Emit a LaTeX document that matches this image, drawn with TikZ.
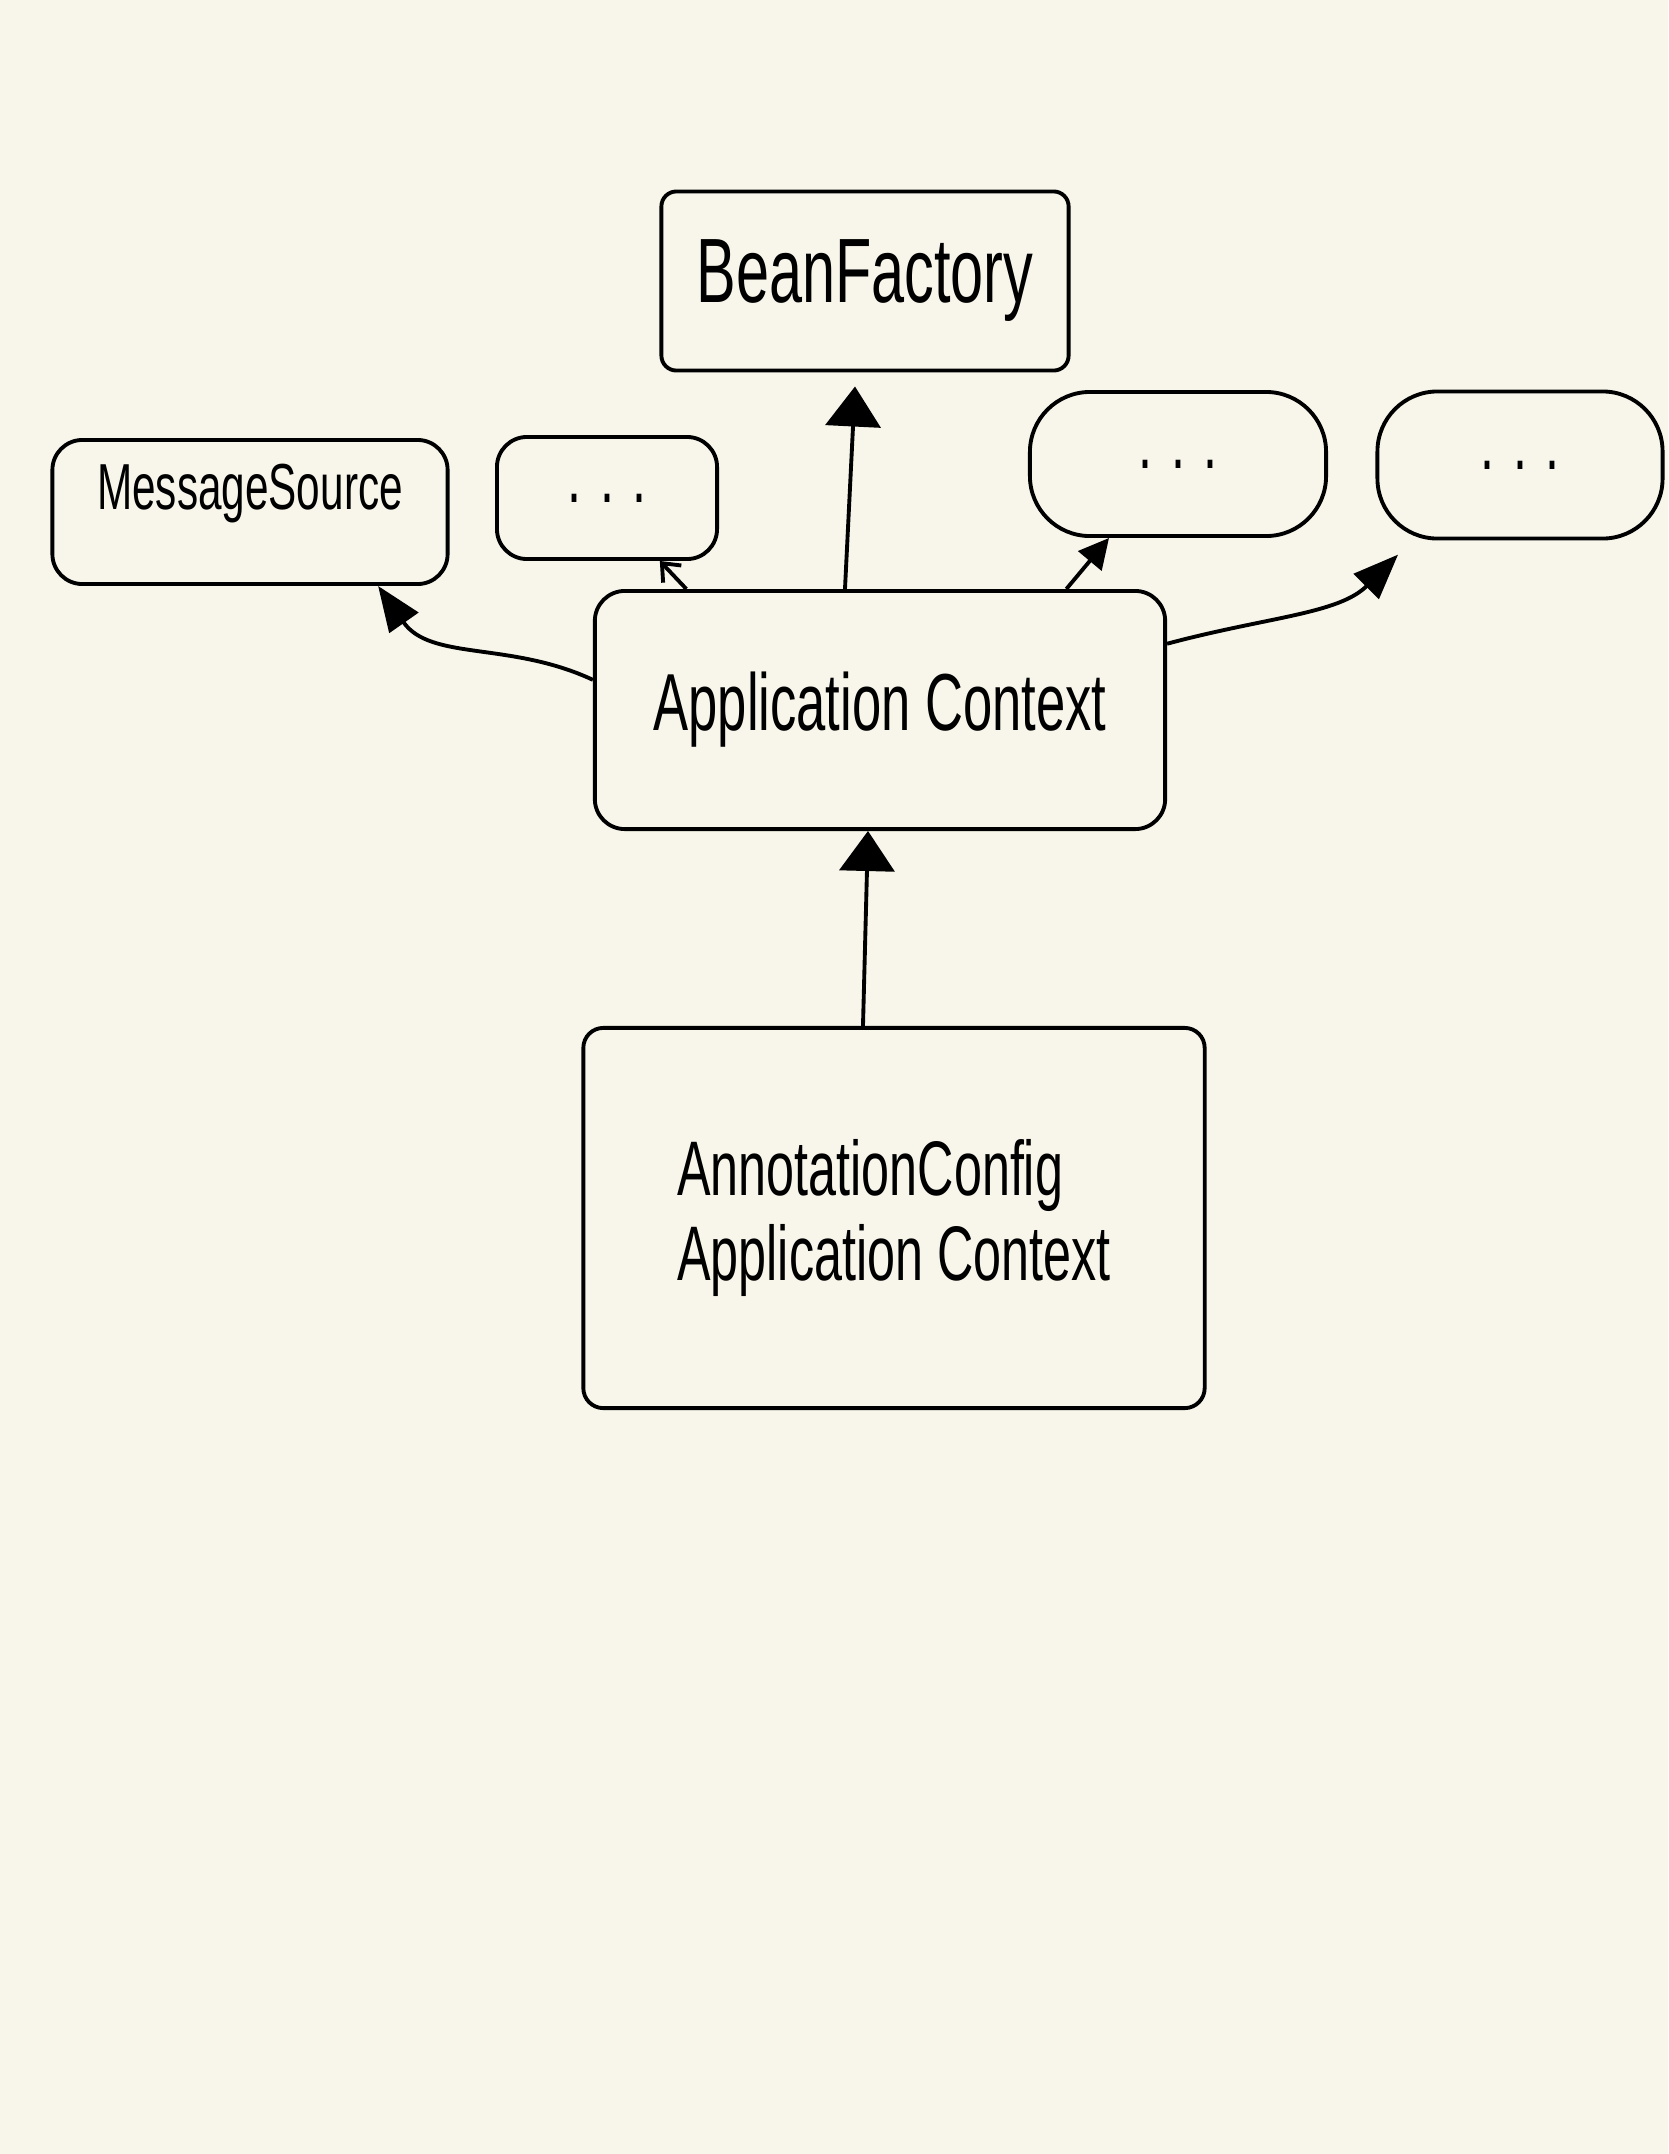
\documentclass[tikz,border=0pt]{standalone}
\usepackage{fontspec}
\newfontfamily\handfont[FakeStretch=0.65]{Liberation Sans}
\usetikzlibrary{arrows.meta}
\definecolor{paper}{RGB}{248,246,234}

\begin{document}
\begin{tikzpicture}[x=0.01cm,y=-0.01cm,line width=1.1pt,
  box/.style={draw,rounded corners=#1,align=center,inner sep=0pt,
    font=\handfont\fontsize{22}{24}\selectfont},
  box/.default=0.15cm,
  bigtip/.style={-{Triangle[length=0.4cm,width=0.55cm]}},
  sidetip/.style={-{Triangle[length=0.45cm,width=0.35cm]}},
  smalltip/.style={-{Triangle[length=0.3cm,width=0.3cm]}}]
\fill[paper] (0,0) rectangle (1668,2154);
% interfaces on top
\node[box,minimum width=4.07cm,minimum height=1.79cm,
  font=\handfont\fontsize{26}{28}\selectfont] (bean) at (865,281) {BeanFactory};
\node[box=0.3cm,minimum width=3.95cm,minimum height=1.44cm,text depth=0.5cm,
  font=\handfont\fontsize{18.5}{20}\selectfont] (msg) at (250,512) {MessageSource};
\node[box=0.3cm,minimum width=2.2cm,minimum height=1.22cm] (dotsa) at (607,498) {. . .};
\node[box=0.6cm,minimum width=2.96cm,minimum height=1.44cm] (dotsb) at (1178,464) {. . .};
\node[box=0.6cm,minimum width=2.85cm,minimum height=1.47cm] (dotsc) at (1520,465) {. . .};
% context and its implementation
\node[box=0.3cm,minimum width=5.7cm,minimum height=2.38cm,
  font=\handfont\fontsize{23}{25}\selectfont] (app) at (880,710) {Application Context};
\node[box=0.2cm,minimum width=6.21cm,minimum height=3.8cm,align=left] (anno) at (894,1218)
  {AnnotationConfig\\Application Context};
\draw[bigtip] ([xshift=-0.35cm]app.north) -- ([xshift=-0.1cm,yshift=-0.14cm]bean.south);
\draw[bigtip] ([xshift=-0.31cm]anno.north) -- ([xshift=-0.12cm]app.south);
\draw[sidetip] (app.174) to[out=155,in=-55] (msg.-30);
\draw[-{Straight Barb[length=0.15cm,width=0.25cm]}] (app.148) -- (dotsa.-50);
\draw[smalltip] (app.33) -- (dotsb.-133);
\draw[sidetip,shorten >=0.2cm] (app.13) to[out=15,in=-135] (dotsc.-145);
\end{tikzpicture}
\end{document}
